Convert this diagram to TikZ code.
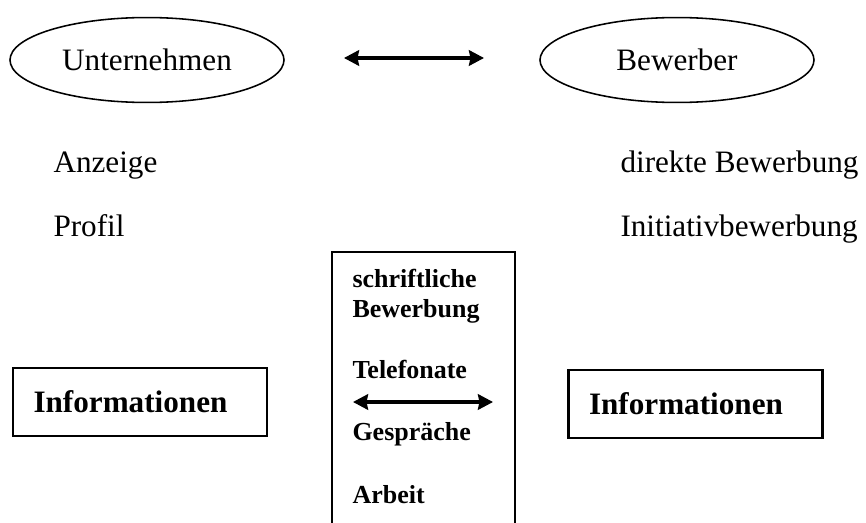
\documentclass[tikz,border=0pt]{standalone}
\usepackage{fontspec}
\setmainfont{Liberation Serif}
\usetikzlibrary{shapes.geometric,arrows.meta}
\tikzset{
	partei/.style={draw,ellipse,line width=0.6pt,minimum width=105.5pt,minimum height=32.7pt,inner sep=0pt,font=\fontsize{12}{14}\selectfont},
	txt/.style={anchor=base west,inner sep=0pt,font=\fontsize{12}{14}\selectfont},
	fett/.style={anchor=base west,inner sep=0pt,font=\bfseries\fontsize{10}{12}\selectfont},
	infobox/.style={draw,line width=0.8pt,minimum height=26.2pt,text width=82pt,align=left,inner xsep=7.9pt,font=\bfseries\fontsize{12}{14}\selectfont},
	pfeil/.style={<->,line width=1.2pt}
}
\begin{document}
\begin{tikzpicture}[>={Stealth[length=5.8pt,width=6pt,inset=0.6pt]},x=0.385pt,y=-0.385pt]
	\useasboundingbox (0,0) rectangle (866,523);
	\node[partei] (unt) at (147,60) {Unternehmen};
	\node[partei] (bew) at (677,60) {Bewerber};
	\coordinate (pl) at (344,58);
	\coordinate (pr) at (484,58);
	\draw[pfeil] (pl) -- (pr);
	\node[txt] (anz) at (53,172) {Anzeige};
	\node[txt] (pro) at (53,236) {Profil};
	\node[txt] (dir) at (620,172) {direkte Bewerbung};
	\node[txt] (ini) at (620,236) {Initiativbewerbung};
	% Kasten in der Mitte, unten offen
	\draw[line width=0.8pt] (332,523) -- (332,252) -- (515,252) -- (515,523);
	\node[fett] (schr) at (352,287) {schriftliche};
	\node[fett] (bwg) at (352,317) {Bewerbung};
	\node[fett] (tel) at (352,378) {Telefonate};
	\node[fett] (ges) at (352,440) {Gespräche};
	\node[fett] (arb) at (352,503) {Arbeit};
	\coordinate (ml) at (353,402);
	\coordinate (mr) at (493,402);
	\draw[pfeil] (ml) -- (mr);
	\node[infobox] (infL) at (140,402) {Informationen};
	\node[infobox] (infR) at (695.5,404) {Informationen};
\end{tikzpicture}
\end{document}
